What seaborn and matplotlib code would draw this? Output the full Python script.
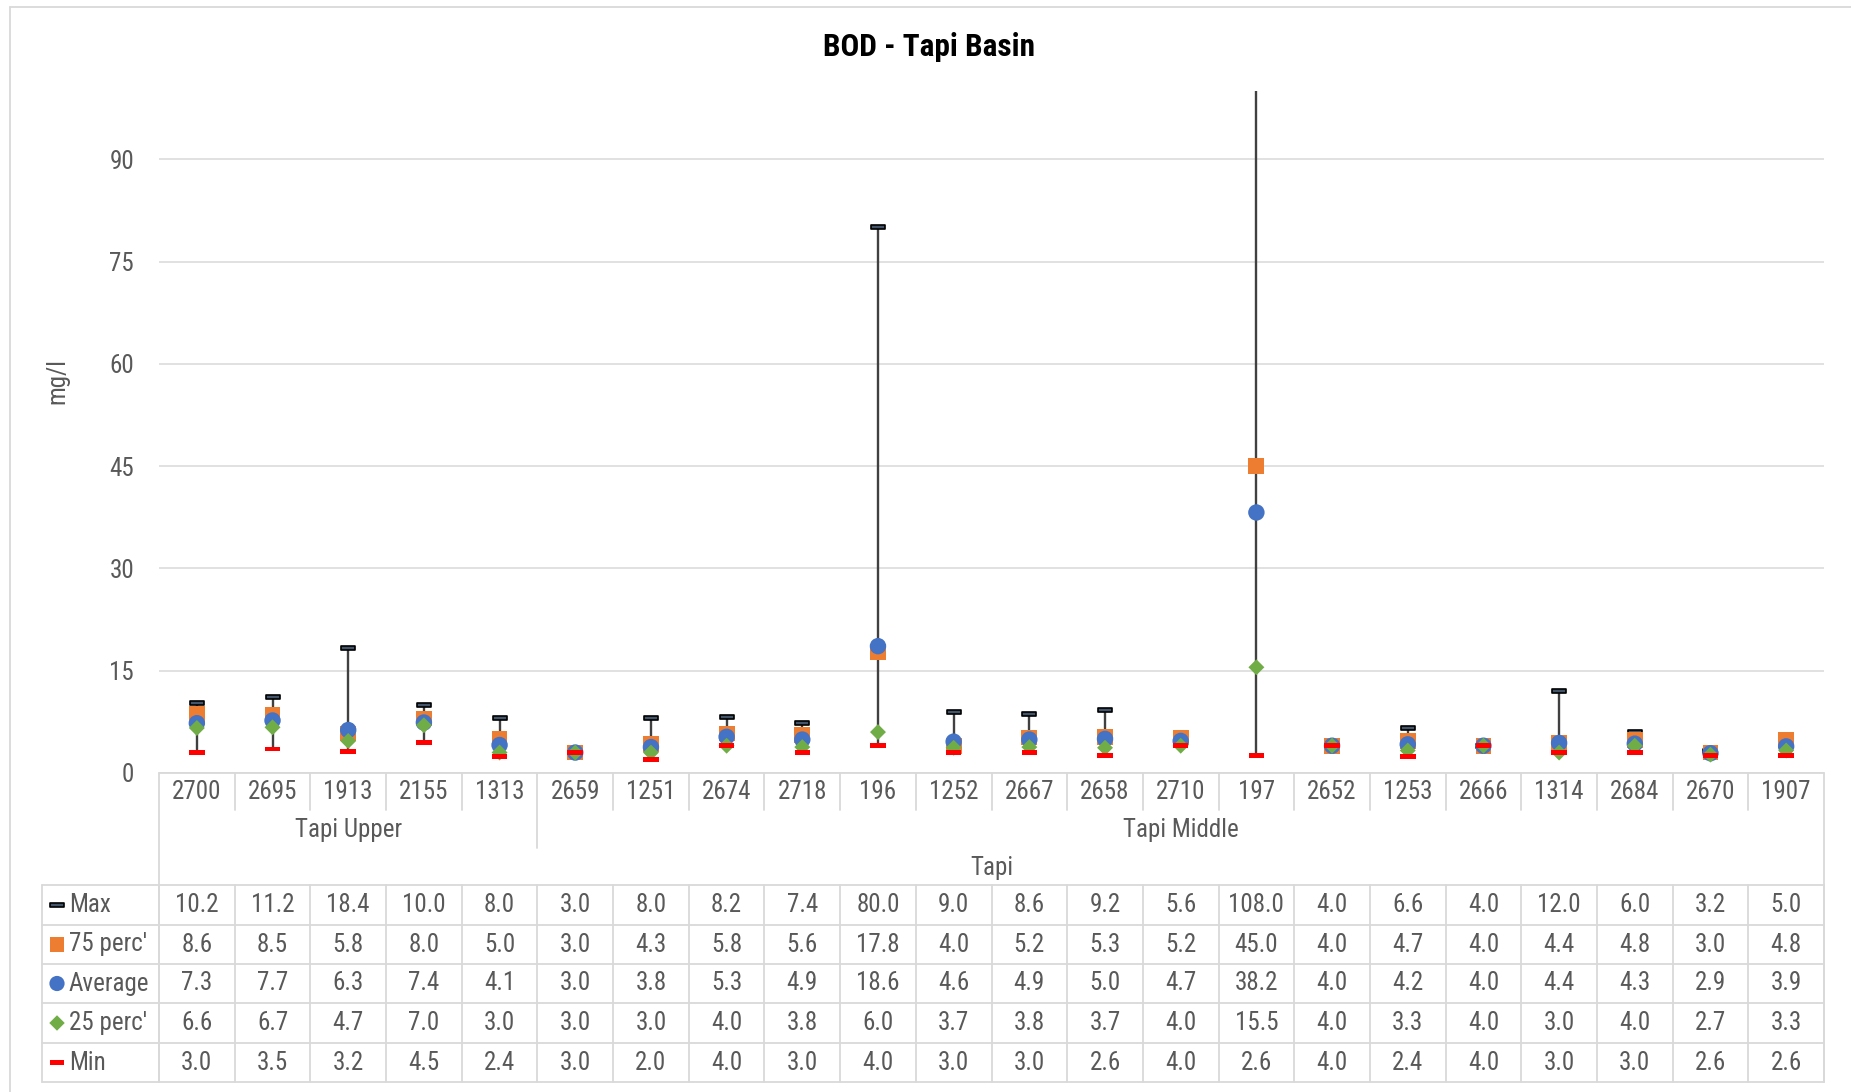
import numpy as np
import pandas as pd
import matplotlib
matplotlib.use("Agg")
import matplotlib.pyplot as plt
from matplotlib import font_manager as fm
from matplotlib.path import Path
import seaborn as sns

# ---------------- data ----------------
sites = ["2700", "2695", "1913", "2155", "1313", "2659", "1251", "2674", "2718", "196", "1252",
         "2667", "2658", "2710", "197", "2652", "1253", "2666", "1314", "2684", "2670", "1907"]
sub_basins = ["Tapi Upper"] * 5 + ["Tapi Middle"] * 17
basin = "Tapi"
max_vals = [10.2, 11.2, 18.4, 10.0, 8.0, 3.0, 8.0, 8.2, 7.4, 80.0, 9.0, 8.6, 9.2, 5.6, 108.0,
            4.0, 6.6, 4.0, 12.0, 6.0, 3.2, 5.0]
p75_vals = [8.6, 8.5, 5.8, 8.0, 5.0, 3.0, 4.3, 5.8, 5.6, 17.8, 4.0, 5.2, 5.3, 5.2, 45.0,
            4.0, 4.7, 4.0, 4.4, 4.8, 3.0, 4.8]
avg_vals = [7.3, 7.7, 6.3, 7.4, 4.1, 3.0, 3.8, 5.3, 4.9, 18.6, 4.6, 4.9, 5.0, 4.7, 38.2,
            4.0, 4.2, 4.0, 4.4, 4.3, 2.9, 3.9]
p25_vals = [6.6, 6.7, 4.7, 7.0, 3.0, 3.0, 3.0, 4.0, 3.8, 6.0, 3.7, 3.8, 3.7, 4.0, 15.5,
            4.0, 3.3, 4.0, 3.0, 4.0, 2.7, 3.3]
min_vals = [3.0, 3.5, 3.2, 4.5, 2.4, 3.0, 2.0, 4.0, 3.0, 4.0, 3.0, 3.0, 2.6, 4.0, 2.6,
            4.0, 2.4, 4.0, 3.0, 3.0, 2.6, 2.6]
series_names = ["Max", "75 perc'", "Average", "25 perc'", "Min"]
y_ticks = [0, 15, 30, 45, 60, 75, 90]
title = "BOD - Tapi Basin"
y_label = "mg/l"

# ---------------- style ----------------
sns.set_style("white")
avail = {f.name for f in fm.fontManager.ttflist}
if "Liberation Sans Narrow" in avail:
    FONT, FS, TFS = "Liberation Sans Narrow", 18, 22
elif "Roboto Condensed" in avail:
    FONT, FS, TFS = "Roboto Condensed", 18, 22.5
else:
    FONT, FS, TFS = "Liberation Sans", 16.5, 19
plt.rcParams["font.family"] = [FONT, "DejaVu Sans"]
TXT = "#595959"
GRID = "#D9D9D9"

dash = Path([(-1, -0.3), (1, -0.3), (1, 0.3), (-1, 0.3), (-1, -0.3)],
            [Path.MOVETO, Path.LINETO, Path.LINETO, Path.LINETO, Path.CLOSEPOLY])

styles = {
    "Max":      dict(marker=dash, color="#44546A", edgecolor="black", linewidth=1.2, s=115, z=3),
    "75 perc'": dict(marker="s", color="#ED7D31", edgecolor="none", linewidth=0, s=130, z=4),
    "Average":  dict(marker="o", color="#4472C4", edgecolor="none", linewidth=0, s=140, z=5),
    "25 perc'": dict(marker="D", color="#70AD47", edgecolor="none", linewidth=0, s=66, z=6),
    "Min":      dict(marker=dash, color="#FF0000", edgecolor="none", linewidth=0, s=125, z=7),
}
key_sizes = {"Max": 95, "75 perc'": 115, "Average": 120, "25 perc'": 62, "Min": 115}

W, H = 1851, 1092
fig = plt.figure(figsize=(W / 100, H / 100), dpi=100)
fig.patch.set_facecolor("white")

L, R = 159, 1824          # plot area left/right (px)
Y0, YT = 773, 91          # y pixel of value 0 and value 100
ncol = len(sites)
colw = (R - L) / ncol

# overlay axes in pixel coordinates for table / texts
ov = fig.add_axes([0, 0, 1, 1])
ov.set_xlim(0, W)
ov.set_ylim(H, 0)
ov.axis("off")

ax = fig.add_axes([L / W, 1 - Y0 / H, (R - L) / W, (Y0 - YT) / H])
ax.set_facecolor("none")

df = pd.DataFrame({"pos": np.arange(ncol), "site": sites,
                   "Max": max_vals, "75 perc'": p75_vals, "Average": avg_vals,
                   "25 perc'": p25_vals, "Min": min_vals})
long = df.melt(id_vars=["pos", "site"], value_vars=series_names,
               var_name="series", value_name="value")

# high-low lines
ax.vlines(df["pos"], df["Min"], df["Max"], colors="#404040", linewidth=1.7, zorder=2)

for name in series_names:
    st = styles[name]
    sns.scatterplot(data=long[long["series"] == name], x="pos", y="value", ax=ax,
                    marker=st["marker"], color=st["color"], edgecolor=st["edgecolor"],
                    linewidth=st["linewidth"], s=st["s"], zorder=st["z"], legend=False)

ax.set_xlim(-0.5, ncol - 0.5)
ax.set_ylim(0, 100)
ax.set_yticks(y_ticks)
ax.set_xticks([])
ax.set_xlabel("")
ax.set_ylabel("")
for sp in ax.spines.values():
    sp.set_visible(False)
ax.yaxis.grid(True, color=GRID, linewidth=1.1)
ax.set_axisbelow(True)
ax.tick_params(axis="y", length=0, pad=18, labelsize=FS, labelcolor=TXT)

# ---------------- category axis + data table ----------------
lw_t = 1.3
ov.plot([L, R], [Y0, Y0], color=GRID, lw=lw_t)
for k in range(ncol + 1):
    x = L + k * colw
    if k in (0, ncol):
        y_end = 1082
    elif sub_basins[k] != sub_basins[k - 1]:
        y_end = 848
    else:
        y_end = 810
    ov.plot([x, x], [Y0, y_end], color=GRID, lw=lw_t)
    ov.plot([x, x], [885, 1082], color=GRID, lw=lw_t)

row_lines = [885, 925, 964, 1003, 1043, 1082]
for y in row_lines:
    ov.plot([42, R], [y, y], color=GRID, lw=lw_t)
ov.plot([42, 42], [885, 1082], color=GRID, lw=lw_t)

for i, s in enumerate(sites):
    ov.text(L + (i + 0.5) * colw, 792, s, ha="center", va="center", fontsize=FS, color=TXT)

# group labels
groups = []
for i, g in enumerate(sub_basins):
    if not groups or groups[-1][0] != g:
        groups.append([g, i, i])
    else:
        groups[-1][2] = i
for g, a, b in groups:
    ov.text(L + (a + b + 1) / 2 * colw, 830, g, ha="center", va="center", fontsize=FS, color=TXT)
ov.text((L + R) / 2, 868, basin, ha="center", va="center", fontsize=FS, color=TXT)

table_vals = {"Max": max_vals, "75 perc'": p75_vals, "Average": avg_vals,
              "25 perc'": p25_vals, "Min": min_vals}
for r, name in enumerate(series_names):
    yc = (row_lines[r] + row_lines[r + 1]) / 2
    st = styles[name]
    ov.scatter([57], [yc], marker=st["marker"], c=st["color"], edgecolors=st["edgecolor"],
               linewidths=st["linewidth"], s=key_sizes[name], zorder=5)
    ov.text(69, yc, name, ha="left", va="center", fontsize=FS, color=TXT)
    for i, v in enumerate(table_vals[name]):
        ov.text(L + (i + 0.5) * colw, yc, f"{v:.1f}", ha="center", va="center",
                fontsize=FS, color=TXT)

# chart border (top and left visible)
ov.plot([10, 10], [7, H], color=GRID, lw=1.3)
ov.plot([10, W], [7, 7], color=GRID, lw=1.3)

# title and axis label
ov.text(929, 47, title, ha="center", va="center", fontsize=TFS, fontweight="bold", color="black")
ov.text(57, 381, y_label, ha="center", va="center", rotation=90, fontsize=FS, color=TXT)

fig.savefig("out.png", dpi=100, facecolor="white")
